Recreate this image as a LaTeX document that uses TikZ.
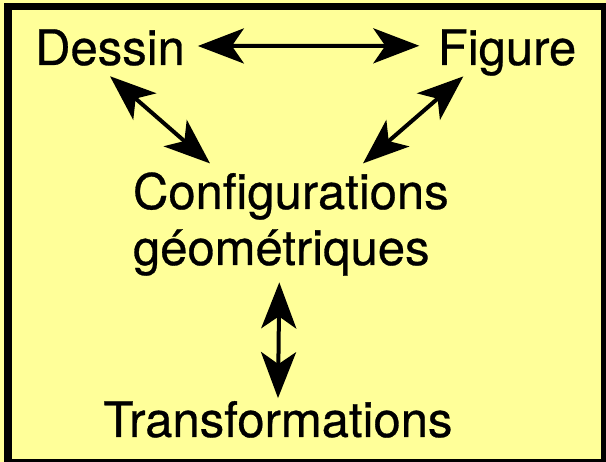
\documentclass[tikz,border=0pt]{standalone}
\usepackage{fontspec}
\setmainfont{TeX Gyre Heros}
\newfontfamily\heavyfont[FakeBold=0.6]{TeX Gyre Heros}
\usetikzlibrary{arrows.meta,calc}
\definecolor{bgyellow}{HTML}{FFFF99}
\tikzset{
  lbl/.style={inner sep=0pt, outer sep=0pt, font=\heavyfont\fontsize{49}{56}\selectfont, anchor=base},
  lblw/.style={lbl, anchor=base west},
  dbl/.style={line width=4pt, {Stealth[length=46pt, width=35pt, inset=12pt]}-{Stealth[length=46pt, width=35pt, inset=12pt]}}
}
\begin{document}
\begin{tikzpicture}[x=1pt,y=-1pt]
\useasboundingbox (0,0) rectangle (606,462);
\fill[bgyellow] (0,0) rectangle (606,462);
\fill[black] (4,3) rectangle (606,462);
\fill[bgyellow] (12,10) rectangle (601,459);

\node[lbl] (dessin) at (110,65) {Dessin};
\node[lbl] (figure) at (507,65) {Figure};
\node[lblw] (config) at (133,209) {Configurations};
\node[lblw] (geom) at (133,265) {géométriques};
\node[lbl] (trans) at (278,437) {Transformations};

\draw[dbl] ($(dessin.east)+(13,-1.5)$) -- ($(figure.west)+(-18.5,-6.7)$);
\draw[dbl] ($(dessin.south)+(0,10.5)$) -- ($(config.north west)+(77,-9)$);
\draw[dbl] ($(figure.south west)+(25.5,0.7)$) -- ($(config.north west)+(230,-9)$);
\draw[dbl] ($(geom.south)+(-2,6.7)$) -- ($(trans.north)+(0,-3)$);
\end{tikzpicture}
\end{document}
